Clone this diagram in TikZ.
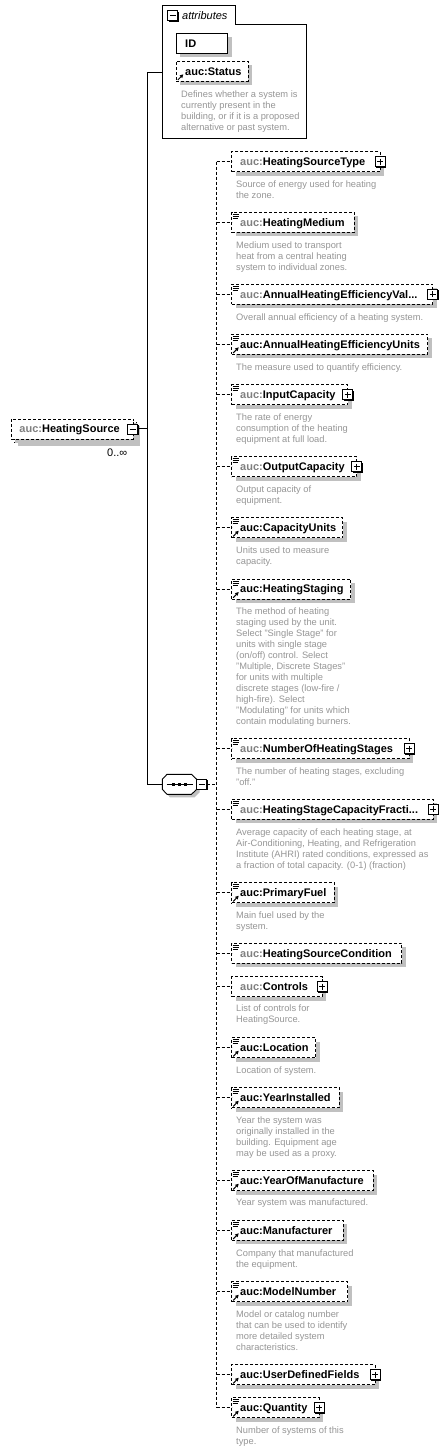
\documentclass[tikz,border=0pt]{standalone}
\usepackage{fontspec}
\setmainfont{Liberation Sans}
\usetikzlibrary{arrows.meta,shadows}
\definecolor{shadowc}{RGB}{192,192,192}
\definecolor{descc}{RGB}{150,150,150}
\definecolor{prefc}{RGB}{128,128,128}
\tikzset{
  boxbase/.style={line width=0.9pt, fill=white, anchor=north west, minimum height=20pt,
    inner sep=0pt, outer sep=0pt, general shadow={fill=shadowc, shadow xshift=4pt, shadow yshift=-4pt}},
  elbox/.style={boxbase, draw, dash pattern=on 3pt off 2pt},
  solidbox/.style={boxbase, draw},
  lbl/.style={anchor=base west, inner sep=0pt, font=\fontsize{11}{13}\selectfont\bfseries},
  desc/.style={anchor=north west, inner sep=0pt, align=left, text=descc, font=\fontsize{9.3}{11}\selectfont},
  conn/.style={line width=0.9pt, dash pattern=on 3pt off 2pt},
  solidconn/.style={line width=0.9pt},
}
\newcommand{\elem}[5]{%
  \node[elbox, minimum width={#3-231.7}] (#1) at (231.7,#2) {};
  \node[lbl] (#1t) at (240,#2+13.9) {\textcolor{#4}{auc:}#5};
  \draw[conn] (spTop |- #1.west) -- (#1.west);
}
\newcommand{\icL}[2]{% left x, top y
  \draw[line width=0.8pt] (#1+1,#2+2) -- (#1+7,#2+2) (#1+1,#2+4) -- (#1+7,#2+4) (#1+1,#2+6) -- (#1+6,#2+6);
}
\newcommand{\icA}[2]{% left x, bottom y
  \draw[line width=1pt, -{Triangle[length=3.5pt,width=3.5pt]}] (#1+1.5,#2-1.3) -- (#1+7,#2-7);
}
\newcommand{\plusbx}[2]{%
  \fill[black] (#1-4,#2-4) rectangle (#1+6,#2+6);
  \draw[line width=0.9pt, fill=white] (#1-5,#2-5) rectangle (#1+5,#2+5);
  \draw[line width=0.9pt] (#1-3,#2) -- (#1+3,#2) (#1,#2-3) -- (#1,#2+3);
}
\newcommand{\minusbx}[2]{%
  \fill[black] (#1-4,#2-4) rectangle (#1+6,#2+6);
  \draw[line width=0.9pt, fill=white] (#1-5,#2-5) rectangle (#1+5,#2+5);
  \draw[line width=0.9pt] (#1-3,#2) -- (#1+3,#2);
}
\newcommand{\dsc}[4]{\node[desc] (#1) at (#2,#3-4.4) {\strut #4};}
\begin{document}
\begin{tikzpicture}[x=1pt,y=-1pt]
\fill[white] (0,0) rectangle (447,1451);
\useasboundingbox (0,0) rectangle (447,1451);

% trunk coordinates
\coordinate (trTop) at (147.3,72);
\coordinate (trBot) at (147.3,784.3);
\coordinate (spTop) at (216.7,161.3);

% ---------- attributes group ----------
\draw[line width=0.9pt, fill=white] (162.3,5.3) -- (235.3,5.3) -- (235.3,24.3) -- (306,24.3) -- (306,138) -- (162.3,138) -- cycle;
\coordinate (attrW) at (162.3,72);
\minusbx{172.8}{15.5}
\node[anchor=base west, inner sep=0pt, font=\fontsize{11}{13}\selectfont\itshape] (attrT) at (182,19.4) {attributes};
\node[solidbox, minimum width=51.4pt] (idb) at (176.3,33.3) {};
\node[lbl] (idt) at (185,47.2) {ID};
\node[elbox, minimum width=72pt] (stb) at (176.3,61.3) {};
\node[lbl] (stt) at (185,75.2) {auc:Status};
\icA{176.3}{81.3}
\dsc{std}{181}{94}{Defines whether a system is\\currently present in the\\building, or if it is a proposed\\alternative or past system.}

% ---------- root element ----------
\node[elbox, minimum width=122.3pt] (hsrcB) at (14,422) {};
\node[elbox, minimum width=122.3pt] (hsrc) at (11,419) {};
\node[lbl] (hsrct) at (19.3,432.9) {\textcolor{prefc}{auc:}HeatingSource};
\minusbx{132.7}{429}
\coordinate (hsrcE) at (137.7,428.6);
\node[anchor=base east, inner sep=0pt, font=\fontsize{11}{13}\selectfont] (mult) at (127.5,456) {0..∞};

% ---------- black connectors ----------
\draw[solidconn] (hsrcE) -- (hsrcE -| trTop);
\draw[solidconn] (attrW) -- (trTop) -- (trBot);

% ---------- sequence compositor ----------
\fill[shadowc] (170,777.3) -- (194.5,777.3) -- (199.7,782.3) -- (199.7,792.3) -- (194.5,797.3) -- (170,797.3) -- (165.3,792.3) -- (165.3,782.3) -- cycle;
\draw[line width=0.9pt, fill=white] (167,774.3) -- (191.5,774.3) -- (196.7,779.3) -- (196.7,789.3) -- (191.5,794.3) -- (167,794.3) -- (162.3,789.3) -- (162.3,779.3) -- cycle;
\coordinate (seqW) at (162.3,784.3);
\draw[line width=0.9pt] (166.7,784.3) -- (192.7,784.3);
\foreach \dx in {173.3,179.3,185.3} \fill (\dx-1.3,783) rectangle (\dx+1.3,785.6);
\draw[solidconn] (trBot) -- (seqW);
\minusbx{201.8}{784.3}
\coordinate (seqE) at (207,784.3);

% ---------- children ----------
\elem{hst}{151.7}{380}{prefc}{HeatingSourceType}
\plusbx{380}{161.7}
\dsc{hstd}{236}{183.7}{Source of energy used for heating\\the zone.}

\elem{hm}{212.3}{354.3}{prefc}{HeatingMedium}
\icL{231.7}{212.3}
\dsc{hmd}{236}{244.7}{Medium used to transport\\heat from a central heating\\system to individual zones.}

\elem{ahev}{284.3}{432.7}{prefc}{AnnualHeatingEfficiencyVal...}
\icL{231.7}{284.3}
\plusbx{432.7}{294.3}
\dsc{ahevd}{236}{316.7}{Overall annual efficiency of a heating system.}

\elem{aheu}{334.3}{427.7}{black}{AnnualHeatingEfficiencyUnits}
\icL{231.7}{334.3}\icA{231.7}{354.3}
\dsc{aheud}{236}{366.7}{The measure used to quantify efficiency.}

\elem{ic}{384.7}{347.7}{prefc}{InputCapacity}
\icL{231.7}{384.7}
\plusbx{347.7}{394.7}
\dsc{icd}{236}{416.7}{The rate of energy\\consumption of the heating\\equipment at full load.}

\elem{oc}{456.7}{356.7}{prefc}{OutputCapacity}
\icL{231.7}{456.7}
\plusbx{356.7}{466.7}
\dsc{ocd}{236}{488.7}{Output capacity of\\equipment.}

\elem{cu}{517.7}{342.7}{black}{CapacityUnits}
\icL{231.7}{517.7}\icA{231.7}{537.7}
\dsc{cud}{236}{549.7}{Units used to measure\\capacity.}

\elem{hstg}{579}{350.7}{black}{HeatingStaging}
\icL{231.7}{579}\icA{231.7}{599}
\dsc{hstgd}{236}{610.7}{The method of heating\\staging used by the unit.\\Select "Single Stage" for\\units with single stage\\(on/off) control. Select\\"Multiple, Discrete Stages"\\for units with multiple\\discrete stages (low-fire /\\high-fire). Select\\"Modulating" for units which\\contain modulating burners.}

\elem{nhs}{738.7}{409.3}{prefc}{NumberOfHeatingStages}
\icL{231.7}{738.7}
\plusbx{409.3}{748.7}
\dsc{nhsd}{236}{770.7}{The number of heating stages, excluding\\"off."}

\elem{hscf}{799.3}{433.3}{prefc}{HeatingStageCapacityFracti...}
\icL{231.7}{799.3}
\plusbx{433.3}{809.3}
\dsc{hscfd}{236}{831.7}{Average capacity of each heating stage, at\\Air-Conditioning, Heating, and Refrigeration\\Institute (AHRI) rated conditions, expressed as\\a fraction of total capacity. (0-1) (fraction)}

\elem{pf}{882.7}{334.3}{black}{PrimaryFuel}
\icL{231.7}{882.7}\icA{231.7}{902.7}
\dsc{pfd}{236}{914.7}{Main fuel used by the\\system.}

\elem{hsc}{943.3}{401.7}{prefc}{HeatingSourceCondition}
\icL{231.7}{943.3}

\elem{ctl}{976.7}{322.3}{prefc}{Controls}
\plusbx{322.3}{986.7}
\dsc{ctld}{236}{1008.3}{List of controls for\\HeatingSource.}

\elem{loc}{1037.7}{315.7}{black}{Location}
\icL{231.7}{1037.7}\icA{231.7}{1057.7}
\dsc{locd}{236}{1069.7}{Location of system.}

\elem{yi}{1087.7}{339.3}{black}{YearInstalled}
\icL{231.7}{1087.7}\icA{231.7}{1107.7}
\dsc{yid}{236}{1119.7}{Year the system was\\originally installed in the\\building. Equipment age\\may be used as a proxy.}

\elem{yom}{1170.7}{373.3}{black}{YearOfManufacture}
\icL{231.7}{1170.7}\icA{231.7}{1190.7}
\dsc{yomd}{236}{1202.3}{Year system was manufactured.}

\elem{mfr}{1220.3}{343.3}{black}{Manufacturer}
\icL{231.7}{1220.3}\icA{231.7}{1240.3}
\dsc{mfrd}{236}{1252.7}{Company that manufactured\\the equipment.}

\elem{mn}{1281.7}{347.7}{black}{ModelNumber}
\icL{231.7}{1281.7}\icA{231.7}{1301.7}
\dsc{mnd}{236}{1313.7}{Model or catalog number\\that can be used to identify\\more detailed system\\characteristics.}

\elem{udf}{1364.7}{375}{black}{UserDefinedFields}
\icA{231.7}{1384.7}
\plusbx{375}{1374.7}

\elem{qty}{1397.7}{319}{black}{Quantity}
\icL{231.7}{1397.7}\icA{231.7}{1417.7}
\plusbx{319}{1407.7}
\dsc{qtyd}{236}{1429.7}{Number of systems of this\\type.}

% spine
\draw[conn] (spTop |- hst.west) -- (spTop |- qty.west);
\draw[conn] (seqE) -- (seqE -| spTop);
\end{tikzpicture}
\end{document}
